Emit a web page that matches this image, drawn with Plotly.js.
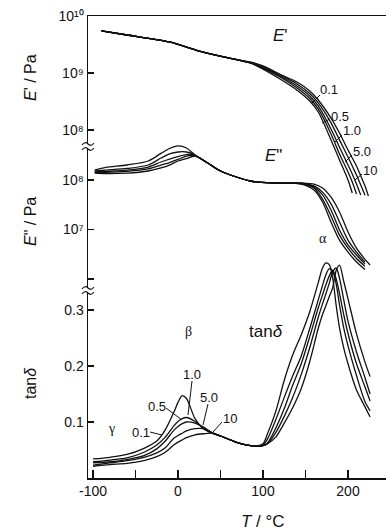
<!DOCTYPE html>
<html>
<head>
<meta charset="utf-8">
<script src="https://cdn.plot.ly/plotly-3.0.1.min.js"></script>
<style>html,body{margin:0;padding:0;background:#fff;}#chart{width:386px;height:532px;}</style>
</head>
<body>
<div id="chart"></div>
<script>
// ---------- DATA ----------
var freqs = ['0.1', '0.5', '1.0', '5.0', '10'];

// Storage modulus E' (Pa)
var T_E1 = [-90,-60,-10,25,55,85,100,120,140,155,165,180,190,200,205,210,215,220,224];
var E1_01 = [5.46e9,4.64e9,3.5e9,2.43e9,1.9e9,1.5e9,1.17e9,7.85e8,5.0e8,3.23e8,2.07e8,6.7e7,2.98e7,1.33e7,7.85e6,null,null,null,null];
var E1_05 = [5.46e9,4.64e9,3.5e9,2.43e9,1.9e9,1.5e9,1.22e9,8.5e8,5.45e8,3.57e8,2.34e8,8.5e7,3.8e7,1.83e7,1.22e7,7.5e6,null,null,null];
var E1_1  = [5.46e9,4.64e9,3.5e9,2.43e9,1.9e9,1.5e9,1.25e9,8.85e8,5.9e8,3.95e8,2.64e8,1.04e8,5.0e7,2.43e7,1.69e7,1.13e7,7.2e6,null,null];
var E1_5  = [5.46e9,4.64e9,3.5e9,2.43e9,1.9e9,1.52e9,1.27e9,9.2e8,6.4e8,4.37e8,2.98e8,1.33e8,6.7e7,3.36e7,2.33e7,1.62e7,1.08e7,7.2e6,null];
var E1_10 = [5.46e9,4.64e9,3.5e9,2.43e9,1.9e9,1.56e9,1.33e9,9.5e8,6.95e8,4.83e8,3.36e8,1.62e8,8.85e7,4.46e7,3.23e7,2.33e7,1.56e7,1.04e7,6.95e6];

// Loss modulus E'' (Pa)
var T_E2 = [-98,-85,-60,-35,-20,-10,0,10,20,35,50,85,115,145,160,170,180,190,200,210,220,226];
var E2_01 = [1.59e8,1.79e8,2.01e8,2.42e8,3.45e8,4.33e8,4.87e8,4.43e8,3.2e8,2.2e8,1.52e8,9.55e7,8.7e7,8.3e7,6.28e7,3.6e7,1.42e7,6.1e6,3.5e6,2.2e6,1.55e6,null];
var E2_05 = [1.52e8,1.59e8,1.71e8,2.01e8,2.78e8,3.36e8,3.68e8,3.68e8,3.2e8,2.2e8,1.52e8,9.55e7,8.7e7,8.4e7,6.9e7,4.1e7,1.88e7,7.7e6,4.2e6,2.6e6,1.8e6,null];
var E2_1  = [1.45e8,1.49e8,1.59e8,1.83e8,2.31e8,2.65e8,2.98e8,3.27e8,3.1e8,2.2e8,1.52e8,9.55e7,8.7e7,8.5e7,7.2e7,5.0e7,2.48e7,9.8e6,4.9e6,3.05e6,2.0e6,null];
var E2_5  = [1.42e8,1.42e8,1.49e8,1.67e8,2.0e8,2.25e8,2.6e8,3.05e8,3.1e8,2.2e8,1.52e8,9.55e7,8.7e7,8.6e7,7.6e7,5.7e7,3.3e7,1.42e7,6.1e6,3.5e6,2.2e6,null];
var E2_10 = [1.38e8,1.35e8,1.38e8,1.52e8,1.75e8,2.0e8,2.42e8,2.7e8,3.05e8,2.2e8,1.52e8,9.55e7,8.7e7,8.7e7,8.3e7,6.9e7,4.5e7,2.26e7,8.9e6,4.2e6,2.5e6,1.92e6];

// Loss tangent tan(delta)
var T_TD = [-100,-80,-60,-40,-25,-15,-5,0,5,10,20,30,40,50,65,80,90,100,105,115,125,135,145,155,165,170,174,178,182,186,190,195,200,210,220,226];
var TD_01 = [0.034,0.037,0.042,0.053,0.066,0.086,0.117,0.135,0.147,0.142,0.106,0.088,0.080,0.075,0.066,0.059,0.057,0.061,0.078,0.119,0.1745,0.220,0.256,0.297,0.349,0.375,0.384,0.381,0.357,0.309,0.268,0.232,0.204,0.157,0.127,0.109];
var TD_05 = [0.029,0.032,0.036,0.046,0.059,0.073,0.093,0.101,0.106,0.108,0.101,0.089,0.080,0.075,0.066,0.059,0.057,0.059,0.069,0.104,0.144,0.1825,0.218,0.267,0.318,0.344,0.363,0.374,0.369,0.347,0.309,0.2675,0.236,0.183,0.136,0.120];
var TD_1  = [0.027,0.029,0.033,0.040,0.052,0.066,0.085,0.092,0.097,0.100,0.098,0.091,0.081,0.075,0.066,0.059,0.057,0.058,0.062,0.089,0.124,0.166,0.204,0.2525,0.304,0.327,0.345,0.361,0.371,0.356,0.3295,0.2915,0.258,0.204,0.1625,0.1375];
var TD_5  = [0.023,0.027,0.031,0.037,0.045,0.054,0.071,0.076,0.080,0.084,0.088,0.088,0.081,0.075,0.066,0.059,0.057,0.058,0.061,0.081,0.110,0.144,0.185,0.233,0.287,0.311,0.329,0.348,0.368,0.375,0.357,0.318,0.280,0.225,0.179,0.150];
var TD_10 = [0.021,0.024,0.026,0.031,0.038,0.046,0.059,0.064,0.068,0.072,0.077,0.079,0.080,0.075,0.066,0.059,0.057,0.058,0.061,0.073,0.098,0.126,0.160,0.208,0.2675,0.292,0.308,0.324,0.340,0.370,0.380,0.351,0.320,0.2575,0.207,0.181];

// Axis ticks
var xTickVals = [-100,0,100,200];
var xTickText = ['-100','0','100','200'];
var xMinorVals = [-50,50,150];
var y1TickVals = [1e8,1e9,1e10];
var y1TickText = ['10\u2078','10\u2079','10\u00B9\u2070'];
var y2TickVals = [1e7,1e8];
var y2TickText = ['10\u2077','10\u2078'];
var y2MinorVals = [1e6];
var y3TickVals = [0.1,0.2,0.3];
var y3TickText = ['0.1','0.2','0.3'];

// ---------- CHART ----------
var SANS = 'Liberation Sans, Arial, Helvetica, sans-serif';
var SERIF = 'Liberation Serif, Times New Roman, serif';
var lineStyle = {color:'#111', width:1.3, shape:'spline', smoothing:0.8};

var E1sets = [E1_01,E1_05,E1_1,E1_5,E1_10];
var E2sets = [E2_01,E2_05,E2_1,E2_5,E2_10];
var TDsets = [TD_01,TD_05,TD_1,TD_5,TD_10];
var traces = [];
freqs.forEach(function(f,i){
  traces.push({x:T_E1, y:E1sets[i], xaxis:'x2', yaxis:'y', mode:'lines', line:lineStyle, name:"E' "+f, hoverinfo:'skip'});
  traces.push({x:T_E2, y:E2sets[i], xaxis:'x', yaxis:'y2', mode:'lines', line:lineStyle, name:"E'' "+f, hoverinfo:'skip'});
  traces.push({x:T_TD, y:TDsets[i], xaxis:'x', yaxis:'y3', mode:'lines', line:lineStyle, name:"tan "+f, hoverinfo:'skip'});
});

// pixel -> paper helper (plot area: x 88..386, y 16..478)
function P(px, py){ return {x:(px-88)/298, y:(478-py)/462}; }

function txt(px, py, text, size, family){
  var p = P(px,py);
  return {xref:'paper', yref:'paper', x:p.x, y:p.y, text:text, showarrow:false,
          xanchor:'center', yanchor:'middle', font:{family:family||SANS, size:size||13, color:'#111'}};
}
function vtitle(py, text){
  var p = P(30, py);
  return {xref:'paper', yref:'paper', x:p.x, y:p.y, text:text, showarrow:false, textangle:-90,
          xanchor:'center', yanchor:'middle', font:{family:SANS, size:16, color:'#111'}};
}
function leader(x0, y0, x1, y1){
  var a = P(x0,y0), b = P(x1,y1);
  return {type:'line', xref:'paper', yref:'paper', x0:a.x, y0:a.y, x1:b.x, y1:b.y,
          line:{color:'#111', width:1}, layer:'above'};
}

var annotations = [
  vtitle(78, "<i>E</i>' / Pa"),
  vtitle(222, '<i>E</i>" / Pa'),
  vtitle(383, 'tan<i>δ</i>'),
  txt(263, 521, '<i>T</i> / °C', 17),
  txt(280, 35, "<i>E</i>'", 17),
  txt(273, 156, '<i>E</i>"', 17),
  txt(323, 238, 'α', 14, SERIF),
  txt(188, 331, 'β', 14, SERIF),
  txt(111, 428, 'γ', 14, SERIF),
  txt(266, 331, 'tan<i>δ</i>', 17),
  txt(329, 89, '0.1'),
  txt(340, 116, '0.5'),
  txt(352, 131, '1.0'),
  txt(362, 151, '5.0'),
  txt(370, 170, '10'),
  txt(192, 374, '1.0'),
  txt(157, 406, '0.5'),
  txt(209, 397, '5.0'),
  txt(230, 418, '10'),
  txt(141, 432, '0.1')
];

// axis break marks
function brk(py){
  var p = P(88, py);
  return [
    {type:'rect', xref:'paper', yref:'paper', xsizemode:'pixel', ysizemode:'pixel',
     xanchor:0, yanchor:p.y, x0:-2, x1:2, y0:-2, y1:2, fillcolor:'#fff', line:{width:0}, layer:'above'},
    {type:'path', xref:'paper', yref:'paper', xsizemode:'pixel', ysizemode:'pixel',
     xanchor:0, yanchor:p.y, path:'M-6,1 Q-3,5 0,2 T6,3 M-6,-4 Q-3,0 0,-3 T6,-2',
     line:{color:'#111', width:1.2}, layer:'above'}
  ];
}
var shapes = brk(146).concat(brk(290)).concat([
  leader(320,95, 312,103),
  leader(330,119, 322,123),
  leader(342,135, 335,142),
  leader(352,155, 345,162),
  leader(362,174, 355,180),
  leader(192,381, 188,415),
  leader(166,408, 182,420),
  leader(208,404, 203,425),
  leader(222,422, 213,432),
  leader(150,432, 162,435)
]);

var axisCommon = {showline:true, linecolor:'#111', linewidth:1.5, ticks:'inside', tickcolor:'#111',
                  tickwidth:1.3, showgrid:false, zeroline:false, tickfont:{family:SANS, size:14, color:'#111'}};

var layout = {
  width:386, height:532,
  margin:{l:88, r:0, t:16, b:54},
  paper_bgcolor:'#fff', plot_bgcolor:'rgba(0,0,0,0)',
  showlegend:false,
  xaxis: Object.assign({}, axisCommon, {domain:[0,1], range:[-105.9,244.7], anchor:'y3',
          tickmode:'array', tickvals:xTickVals, ticktext:xTickText, ticklen:8,
          minor:{tickmode:'array', tickvals:xMinorVals, ticks:'inside', ticklen:8, tickwidth:1.3, tickcolor:'#111', showgrid:false}}),
  xaxis2: Object.assign({}, axisCommon, {domain:[0,1], range:[-105.9,244.7], anchor:'y', side:'top',
          ticks:'', showticklabels:false, matches:'x'}),
  yaxis: Object.assign({}, axisCommon, {type:'log', domain:[(478-200)/462, 1], range:[10-(200-16)/57, 10],
          anchor:'x2', tickmode:'array', tickvals:y1TickVals, ticktext:y1TickText, ticklen:6}),
  yaxis2: Object.assign({}, axisCommon, {type:'log', domain:[(478-290)/462, (478-140)/462], range:[5.778, 8.808],
          anchor:'x', tickmode:'array', tickvals:y2TickVals, ticktext:y2TickText, ticklen:6,
          minor:{tickmode:'array', tickvals:y2MinorVals, ticks:'inside', ticklen:6, tickwidth:1.3, tickcolor:'#111', showgrid:false}}),
  yaxis3: Object.assign({}, axisCommon, {domain:[0, (478-254)/462], range:[0, 0.4],
          anchor:'x', tickmode:'array', tickvals:y3TickVals, ticktext:y3TickText, ticklen:6}),
  annotations: annotations,
  shapes: shapes
};

Plotly.newPlot('chart', traces, layout, {staticPlot:true, displayModeBar:false});
</script>
</body>
</html>
